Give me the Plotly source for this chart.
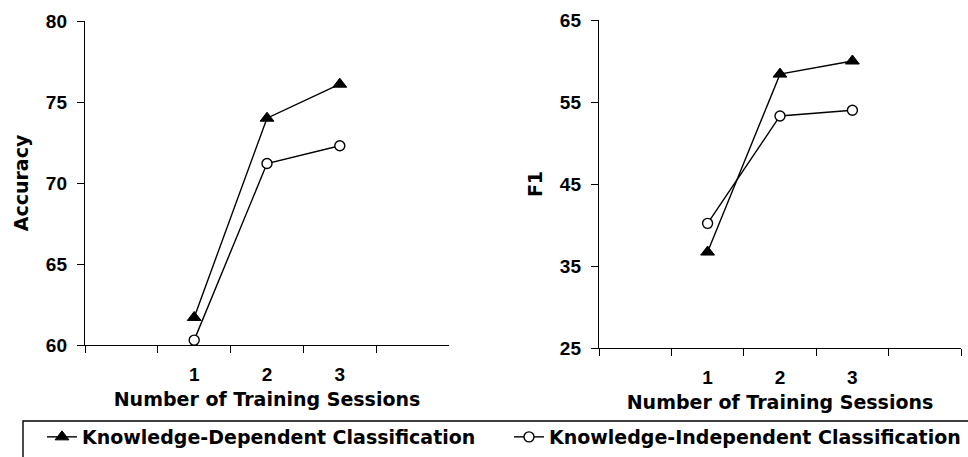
import plotly.graph_objects as go

sessions = ["1", "2", "3"]
categories = [" ", "1", "2", "3", "  "]
acc_dependent = [61.7, 74.0, 76.1]
acc_independent = [60.3, 71.2, 72.3]
f1_dependent = [36.7, 58.4, 60.0]
f1_independent = [40.2, 53.3, 54.0]

name_dep = "Knowledge-Dependent Classification"
name_ind = "Knowledge-Independent Classification"

TICKFONT = "Liberation Sans, Arial, sans-serif"
TEXTFONT = "DejaVu Sans, Liberation Sans, sans-serif"

fig = go.Figure()

dep_style = dict(mode="lines+markers", line=dict(color="black", width=1.4),
                 marker=dict(symbol="triangle-up", size=12, color="black",
                             line=dict(color="black", width=1)))
ind_style = dict(mode="lines+markers", line=dict(color="black", width=1.4),
                 marker=dict(symbol="circle", size=10, color="white",
                             line=dict(color="black", width=1.4)))

fig.add_trace(go.Scatter(x=sessions, y=acc_dependent, name=name_dep, xaxis="x", yaxis="y",
                         legend="legend", **dep_style))
fig.add_trace(go.Scatter(x=sessions, y=acc_independent, name=name_ind, xaxis="x", yaxis="y",
                         legend="legend2", **ind_style))
fig.add_trace(go.Scatter(x=sessions, y=f1_dependent, name=name_dep, xaxis="x2", yaxis="y2",
                         showlegend=False, **dep_style))
fig.add_trace(go.Scatter(x=sessions, y=f1_independent, name=name_ind, xaxis="x2", yaxis="y2",
                         showlegend=False, **ind_style))

W, H = 968, 457
ydom1 = [(H - 345) / H, (H - 21) / H]
ydom2 = [(H - 348) / H, (H - 20) / H]

title_font = dict(family=TEXTFONT, size=19, color="black", weight="bold")
legend_font = dict(family=TEXTFONT, size=19, color="black", weight="bold")

xcommon = dict(type="category", categoryorder="array", categoryarray=categories,
               range=[-0.5, 4.5], tickson="boundaries", ticks="outside", ticklen=7,
               tickwidth=1.4, tickcolor="black", showline=True, linecolor="black",
               linewidth=1.4, showgrid=False, zeroline=False, automargin=False,
               ticklabelstandoff=12,
               tickfont=dict(family=TICKFONT, size=19, color="black", weight="bold"),
               title=dict(text="Number of Training Sessions", font=title_font, standoff=8))
ycommon = dict(ticks="outside", ticklen=7, tickwidth=1.4, tickcolor="black",
               showline=True, linecolor="black", linewidth=1.4, showgrid=False,
               zeroline=False, automargin=False, ticklabelstandoff=6,
               tickfont=dict(family=TICKFONT, size=19, color="black", weight="bold"))

fig.update_layout(
    width=W, height=H,
    margin=dict(l=0, r=0, t=0, b=0),
    paper_bgcolor="white", plot_bgcolor="white",
    showlegend=True,
    xaxis=dict(domain=[85 / W, 449 / W], anchor="y", **xcommon),
    yaxis=dict(domain=ydom1, anchor="x", range=[60, 80], dtick=5, tick0=60,
               title=dict(text="Accuracy", font=title_font, standoff=12),
               **ycommon),
    xaxis2=dict(domain=[599 / W, 961 / W], anchor="y2", **xcommon),
    yaxis2=dict(domain=ydom2, anchor="x2", range=[25, 65], dtick=10, tick0=25,
                title=dict(text="F1", font=title_font, standoff=12),
                **ycommon),
    legend=dict(orientation="h", x=42 / W, y=(H - 437) / H, xanchor="left", yanchor="middle",
                bgcolor="rgba(0,0,0,0)", borderwidth=0, font=legend_font, itemwidth=30),
    legend2=dict(orientation="h", x=966 / W, y=(H - 437) / H, xanchor="right",
                 yanchor="middle", bgcolor="rgba(0,0,0,0)", borderwidth=0,
                 font=legend_font, itemwidth=30),
    shapes=[dict(type="rect", xref="paper", yref="paper",
                 x0=23 / W, x1=980 / W, y0=-0.05, y1=(H - 421) / H,
                 line=dict(color="black", width=1.4), fillcolor="rgba(0,0,0,0)")],
)

fig.write_html("out.html",
               config={"displayModeBar": False},
               post_script="document.body.style.margin='0px';"
                           "document.body.style.overflow='hidden';")
